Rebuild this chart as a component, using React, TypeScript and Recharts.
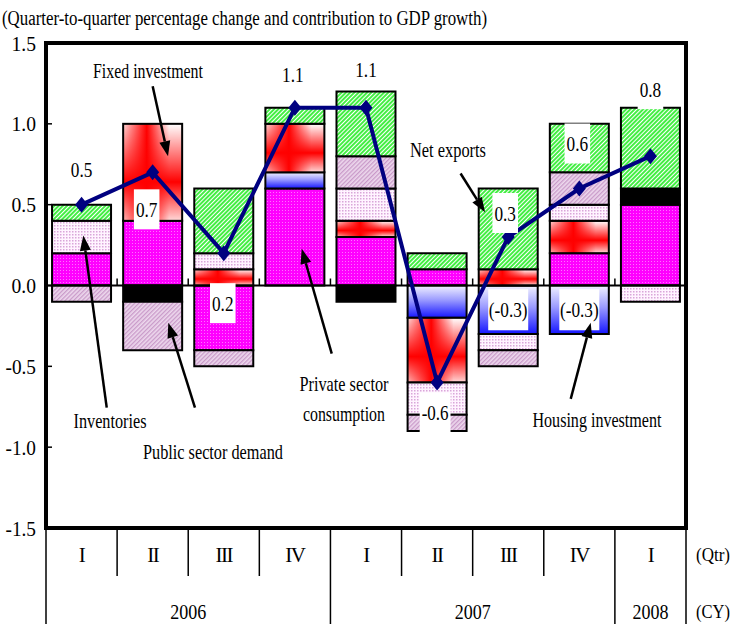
import React from 'react';
import {
  ComposedChart,
  Bar,
  Line,
  XAxis,
  YAxis,
  ReferenceLine,
  ReferenceArea,
  LabelList,
} from 'recharts';

// Quarters and calendar years along the horizontal axis
const quarters = ['I', 'II', 'III', 'IV', 'I', 'II', 'III', 'IV', 'I'];
const years = ['2006', '2006', '2006', '2006', '2007', '2007', '2007', '2007', '2008'];

// Contributions to real GDP growth (percentage points)
const privateConsumption = [0.2, 0.4, -0.4, 0.6, 0.3, 0.1, 0, 0.2, 0.5];
const housingInvestment = [0, 0, 0, 0.1, 0, -0.2, -0.3, -0.3, 0];
const fixedInvestment = [0, 0.6, 0.1, 0.3, 0.1, -0.4, 0.1, 0.2, 0];
const others = [0, -0.1, 0, 0, -0.1, 0, 0, 0, 0.1];
const inventories = [0.2, 0, 0.1, 0, 0.2, -0.2, -0.1, 0.1, -0.1];
const publicDemand = [-0.1, -0.3, -0.1, 0, 0.2, -0.1, -0.1, 0.2, 0];
const netExports = [0.1, 0, 0.4, 0.1, 0.4, 0.1, 0.5, 0.3, 0.5];

// Quarter-to-quarter real GDP growth (%)
const gdpGrowth = [0.5, 0.7, 0.2, 1.1, 1.1, -0.6, 0.3, 0.6, 0.8];

// Quarters where the housing contribution is printed inside the bar
const housingLabelled = [false, false, false, false, false, false, true, true, false];

const yTicks = [-1.5, -1.0, -0.5, 0, 0.5, 1.0, 1.5];
const Y_MIN = -1.5;
const Y_MAX = 1.5;

const rows = quarters.map((q, i) => ({
  key: `${years[i]}-${q}-${i}`,
  privateConsumption: privateConsumption[i],
  housingInvestment: housingInvestment[i],
  housingNote: housingLabelled[i] ? housingInvestment[i] : null,
  fixedInvestment: fixedInvestment[i],
  others: others[i],
  inventories: inventories[i],
  publicDemand: publicDemand[i],
  netExports: netExports[i],
  gdpGrowth: gdpGrowth[i],
}));

// ---- layout ----
const W = 734;
const H = 628;
const PLOT_L = 46;
const PLOT_R = 686;
const PLOT_T = 43;
const PLOT_B = 528;
const ZERO_Y = PLOT_T + ((Y_MAX - 0) / (Y_MAX - Y_MIN)) * (PLOT_B - PLOT_T);
const FONT = '"Liberation Serif", "Times New Roman", serif';

// label placement around each growth marker: [dx, dy, white box]
const GROWTH_LABEL_POS: [number, number, boolean][] = [
  [0, -35, false],
  [-6, 37, true],
  [-1, 50, true],
  [-2, -33, false],
  [0, -38, false],
  [-2, 30, true],
  [-3, -24, true],
  [-2, -45, true],
  [0, -67, true],
];

// annotation texts, placed in plot units (x: 0..9 across the quarters, y: value)
const NOTE_TEXTS: [string, number, number, number][] = [
  ['Fixed investment', 1.434, 1.324, 110],
  ['Inventories', 0.9, -0.841, 73],
  ['Public sector demand', 2.348, -1.027, 140],
  ['Private sector', 4.19, -0.612, 89],
  ['consumption', 4.19, -0.795, 82],
  ['Net exports', 5.653, 0.838, 76],
  ['Housing investment', 7.748, -0.832, 129],
];

// pointer arrows: [fromX, fromY, toX, toY] in plot units
const NOTE_ARROWS: [number, number, number, number][] = [
  [1.5, 1.233, 1.716, 0.8],
  [0.854, -0.755, 0.525, 0.309],
  [2.095, -0.755, 1.72, -0.231],
  [4.018, -0.421, 3.596, 0.227],
  [5.83, 0.693, 6.174, 0.453],
  [7.379, -0.701, 7.66, -0.231],
];

const px = (u: number) => PLOT_L + (u / quarters.length) * (PLOT_R - PLOT_L);
const py = (v: number) => PLOT_T + ((Y_MAX - v) / (Y_MAX - Y_MIN)) * (PLOT_B - PLOT_T);

const numWidth = (s: string, digit: number) =>
  s.split('').reduce((w, c) => {
    if (c >= '0' && c <= '9') return w + digit;
    if (c === '.') return w + digit * 0.45;
    if (c === '-') return w + digit * 0.6;
    return w + digit * 0.68;
  }, 0);

const CText = ({ x, y, w, size = 21, anchor = 'middle', children }: any) => (
  <text
    x={x}
    y={y}
    textAnchor={anchor}
    dominantBaseline="central"
    fontSize={size}
    fontFamily={FONT}
    textLength={w}
    lengthAdjust="spacingAndGlyphs"
    fill="#000"
  >
    {children}
  </text>
);

const YTick = ({ x, y, payload }: any) => {
  const s = Number(payload.value).toFixed(1);
  return (
    <g>
      <line x1={PLOT_L + 2} y1={y} x2={PLOT_L + 6} y2={y} stroke="#000" strokeWidth={1.5} />
      <CText x={x} y={y} w={numWidth(s, 10)} size={22} anchor="end">
        {s}
      </CText>
    </g>
  );
};

const QuarterTick = ({ x, y, index }: any) => {
  const n = quarters.length;
  const bw = (PLOT_R - PLOT_L) / n;
  const left = x - bw / 2;
  const yearStart = index === 0 || years[index] !== years[index - 1];
  let span = 0;
  if (yearStart) {
    let j = index;
    while (j < n && years[j] === years[index]) {
      span++;
      j++;
    }
  }
  const last = index === n - 1;
  return (
    <g>
      {index > 0 && <line x1={left} y1={ZERO_Y} x2={left} y2={ZERO_Y - 7} stroke="#000" strokeWidth={1.5} />}
      <line x1={left} y1={y} x2={left} y2={y + (yearStart ? 96 : 48)} stroke="#000" strokeWidth={1.5} />
      {last && <line x1={left + bw} y1={y} x2={left + bw} y2={y + 96} stroke="#000" strokeWidth={1.5} />}
      <text
        x={x}
        y={y + 27}
        textAnchor="middle"
        dominantBaseline="central"
        fontSize={21}
        fontFamily={FONT}
        letterSpacing={-1.5}
        fill="#000"
      >
        {quarters[index]}
      </text>
      {yearStart && (
        <CText x={left + (span * bw) / 2} y={y + 84} w={36}>
          {years[index]}
        </CText>
      )}
      {last && (
        <>
          <CText x={left + bw + 10} y={y + 27} w={34} size={18} anchor="start">
            (Qtr)
          </CText>
          <CText x={left + bw + 10} y={y + 84} w={34} size={18} anchor="start">
            (CY)
          </CText>
        </>
      )}
    </g>
  );
};

// fixed investment: white cell with a red cross-shaped shading
const FixedShape = (p: any) => {
  const { x, width, height, y } = p;
  if (!height || !width) return null;
  const top = Math.min(y, y + height);
  const h = Math.abs(height);
  return (
    <g>
      <rect x={x} y={top} width={width} height={h} fill="#fff" />
      <rect x={x} y={top} width={width} height={h} fill="url(#redH)" />
      <rect x={x} y={top} width={width} height={h} fill="url(#redV)" />
      <rect x={x} y={top} width={width} height={h} fill="none" stroke="#000" strokeWidth={2} />
    </g>
  );
};

const Diamond = (p: any) => {
  const { cx, cy, index } = p;
  if (cx == null || cy == null) return null;
  return (
    <path
      key={`d-${index}`}
      d={`M${cx},${cy - 8}L${cx + 6.5},${cy}L${cx},${cy + 8}L${cx - 6.5},${cy}Z`}
      fill="#000080"
    />
  );
};

const GrowthLabel = (p: any) => {
  const { x, y, value, index } = p;
  const [dx, dy, boxed] = GROWTH_LABEL_POS[index];
  const s = Number(value).toFixed(1);
  const w = numWidth(s, 8.8);
  const cx = x + dx;
  const cy = y + dy;
  return (
    <g key={`gl-${index}`}>
      {boxed && <rect x={cx - w / 2 - 2} y={cy - 20} width={w + 4} height={40} fill="#fff" />}
      <CText x={cx} y={cy} w={w} size={22}>
        {s}
      </CText>
    </g>
  );
};

const HousingLabel = (p: any) => {
  const { x, y, width, height, value } = p;
  if (value == null || value === '' || x == null) return null;
  const s = `(${Number(value).toFixed(1)})`;
  const w = numWidth(s, 8.8);
  const cx = Number(x) + Number(width) / 2;
  const cy = Number(y) + Number(height) / 2;
  return (
    <g>
      <rect x={cx - 20} y={cy - 20.5} width={40} height={41} fill="#fff" />
      <CText x={cx} y={cy} w={w} size={22}>
        {s}
      </CText>
    </g>
  );
};

const Arrow = ({ x1, y1, x2, y2 }: any) => {
  const a = Math.atan2(y2 - y1, x2 - x1);
  const L = 15;
  const hw = 5.5;
  const bx = x2 - L * Math.cos(a);
  const by = y2 - L * Math.sin(a);
  const nx = -Math.sin(a);
  const ny = Math.cos(a);
  return (
    <g>
      <line x1={x1} y1={y1} x2={bx} y2={by} stroke="#000" strokeWidth={2.5} />
      <path d={`M${x2},${y2}L${bx + nx * hw},${by + ny * hw}L${bx - nx * hw},${by - ny * hw}Z`} fill="#000" />
    </g>
  );
};

export default function App() {
  return (
    <div style={{ position: 'absolute', left: 0, top: 0, width: W, height: H, background: '#fff' }}>
      <div style={{ position: 'absolute', left: 0, top: 0 }}>
        <ComposedChart
          width={W}
          height={H}
          data={rows}
          stackOffset="sign"
          barCategoryGap="8.5%"
          margin={{ top: PLOT_T, right: W - PLOT_R, bottom: 0, left: 0 }}
          style={{ fontFamily: FONT }}
        >
          <defs>
            <pattern id="pMagenta" width="3" height="3" patternUnits="userSpaceOnUse">
              <rect width="3" height="3" fill="#FF00FF" />
              <rect width="1" height="1" fill="#FF70FF" />
            </pattern>
            <pattern id="pGreen" width="3" height="3" patternUnits="userSpaceOnUse" patternTransform="rotate(45)">
              <rect width="3" height="3" fill="#FFFFFF" />
              <rect width="2" height="3" fill="#44EE44" />
            </pattern>
            <pattern id="pPurple" width="3" height="3" patternUnits="userSpaceOnUse" patternTransform="rotate(45)">
              <rect width="3" height="3" fill="#EDD8ED" />
              <rect width="1.3" height="3" fill="#C99AC9" />
            </pattern>
            <pattern id="pInv" width="3" height="3" patternUnits="userSpaceOnUse">
              <rect width="3" height="3" fill="#FFF4FF" />
              <rect width="1.5" height="1.5" fill="#D9A6D9" />
            </pattern>
            <linearGradient id="blueG" x1="0" y1="0" x2="0" y2="1">
              <stop offset="0" stopColor="#F2F2FF" />
              <stop offset="0.45" stopColor="#9A9AFF" />
              <stop offset="1" stopColor="#1515FF" />
            </linearGradient>
            <linearGradient id="redH" x1="0" y1="0" x2="1" y2="0">
              <stop offset="0" stopColor="#FF0000" stopOpacity="0.15" />
              <stop offset="0.4" stopColor="#FF0000" stopOpacity="1" />
              <stop offset="0.78" stopColor="#FF0000" stopOpacity="0" />
              <stop offset="1" stopColor="#FF0000" stopOpacity="0" />
            </linearGradient>
            <linearGradient id="redV" x1="0" y1="0" x2="0" y2="1">
              <stop offset="0" stopColor="#FF0000" stopOpacity="0" />
              <stop offset="0.6" stopColor="#FF0000" stopOpacity="1" />
              <stop offset="1" stopColor="#FF0000" stopOpacity="0.15" />
            </linearGradient>
          </defs>

          <XAxis
            dataKey="key"
            height={H - PLOT_B}
            axisLine={false}
            tickLine={false}
            tickSize={0}
            tickMargin={0}
            interval={0}
            tick={<QuarterTick />}
          />
          <YAxis
            domain={[Y_MIN, Y_MAX]}
            ticks={yTicks}
            width={PLOT_L}
            axisLine={false}
            tickLine={false}
            tickSize={0}
            tickMargin={10}
            interval={0}
            tick={<YTick />}
            allowDataOverflow
          />

          <Bar dataKey="privateConsumption" name="Private sector consumption" stackId="gdp" fill="url(#pMagenta)" stroke="#000" strokeWidth={2} isAnimationActive={false} />
          <Bar dataKey="housingInvestment" name="Housing investment" stackId="gdp" fill="url(#blueG)" stroke="#000" strokeWidth={2} isAnimationActive={false}>
            <LabelList dataKey="housingNote" content={HousingLabel} />
          </Bar>
          <Bar dataKey="fixedInvestment" name="Fixed investment" stackId="gdp" shape={FixedShape} isAnimationActive={false} />
          <Bar dataKey="others" name="Others" stackId="gdp" fill="#000" stroke="#000" strokeWidth={2} isAnimationActive={false} />
          <Bar dataKey="inventories" name="Inventories" stackId="gdp" fill="url(#pInv)" stroke="#000" strokeWidth={2} isAnimationActive={false} />
          <Bar dataKey="publicDemand" name="Public sector demand" stackId="gdp" fill="url(#pPurple)" stroke="#000" strokeWidth={2} isAnimationActive={false} />
          <Bar dataKey="netExports" name="Net exports" stackId="gdp" fill="url(#pGreen)" stroke="#000" strokeWidth={2} isAnimationActive={false} />

          <ReferenceArea y1={Y_MIN} y2={Y_MAX} fill="none" fillOpacity={0} stroke="#000" strokeWidth={4} />
          <ReferenceLine y={0} stroke="#000" strokeWidth={2} />

          <Line
            dataKey="gdpGrowth"
            name="Real GDP"
            stroke="#000080"
            strokeWidth={4}
            dot={Diamond}
            activeDot={false}
            isAnimationActive={false}
          >
            <LabelList dataKey="gdpGrowth" content={GrowthLabel} />
          </Line>
        </ComposedChart>
      </div>

      {/* title and pointer annotations */}
      <svg width={W} height={H} style={{ position: 'absolute', left: 0, top: 0, pointerEvents: 'none' }}>
        <CText x={2} y={18} w={485} size={20} anchor="start">
          (Quarter-to-quarter percentage change and contribution to GDP growth)
        </CText>
        {NOTE_ARROWS.map(([fx, fy, tx, ty], i) => (
          <Arrow key={`na-${i}`} x1={px(fx)} y1={py(fy)} x2={px(tx)} y2={py(ty)} />
        ))}
        {NOTE_TEXTS.map(([t, x, y, w], i) => (
          <CText key={`nt-${i}`} x={px(x)} y={py(y)} w={w}>
            {t}
          </CText>
        ))}
      </svg>
    </div>
  );
}
